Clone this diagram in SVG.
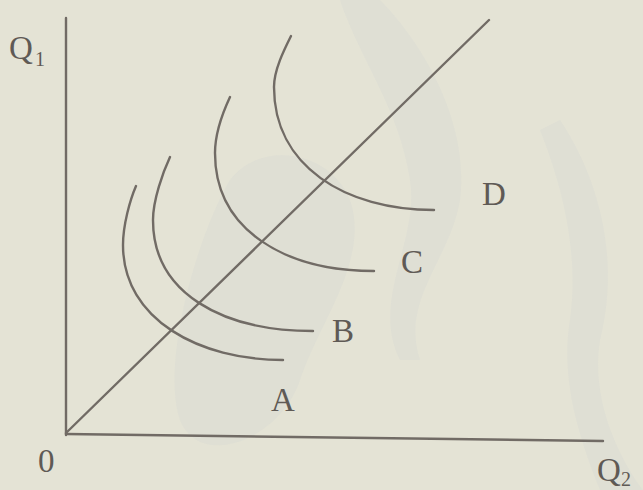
<svg xmlns="http://www.w3.org/2000/svg" width="643" height="490" viewBox="0 0 643 490">
<style>
.ln{fill:none;stroke:#716b65;stroke-width:2.4;stroke-linecap:round}
.t{font-family:"Liberation Serif","Times New Roman",serif;fill:#5f5a55;font-size:33px}
.s{font-family:"Liberation Serif","Times New Roman",serif;fill:#5f5a55;font-size:20px}
.wm{fill:#c8cdd2;opacity:0.18}
</style>
<rect width="643" height="490" fill="#e4e3d5"/>
<g id="watermark">
<path class="wm" d="M230,180 C260,140 330,150 350,200 C370,260 320,320 300,380 C280,440 200,470 180,420 C160,360 200,230 230,180 Z"/>
<path class="wm" d="M380,0 C420,40 470,120 460,200 C450,260 400,300 420,360 L400,360 C370,300 420,240 410,180 C400,110 360,60 340,0 Z"/>
<path class="wm" d="M560,120 C600,180 620,260 600,340 C590,400 620,460 643,490 L600,490 C580,440 560,380 570,320 C580,250 560,180 540,130 Z"/>
</g>
<g id="connectors">
<path class="ln" d="M66,18 L66,435"/>
<path class="ln" d="M66,434 L603,441"/>
<path class="ln" d="M66,433 L489,20"/>
</g>
<g id="curve-A">
<path class="ln" d="M136,186 C130,200 123,225 123,245 C123,320 200,360 283,360"/>
<text class="t" x="271" y="411">A</text>
</g>
<g id="curve-B">
<path class="ln" d="M170,157 C163,172 153,200 153,220 C153,293 222,331 313,331"/>
<text class="t" x="332" y="342">B</text>
</g>
<g id="curve-C">
<path class="ln" d="M230,97 C223,112 215,135 215,153 C215,230 285,271 374,271"/>
<text class="t" x="401" y="273">C</text>
</g>
<g id="curve-D">
<path class="ln" d="M291,36 C284,50 274,70 274,87 C274,166 345,210 434,210"/>
<text class="t" x="482" y="205">D</text>
</g>
<g id="labels">
<text class="t" x="9" y="59">Q</text><text class="s" x="35" y="66">1</text>
<text class="t" x="38" y="472">0</text>
<text class="t" x="597" y="481">Q</text><text class="s" x="621" y="486">2</text>
</g>
</svg>
